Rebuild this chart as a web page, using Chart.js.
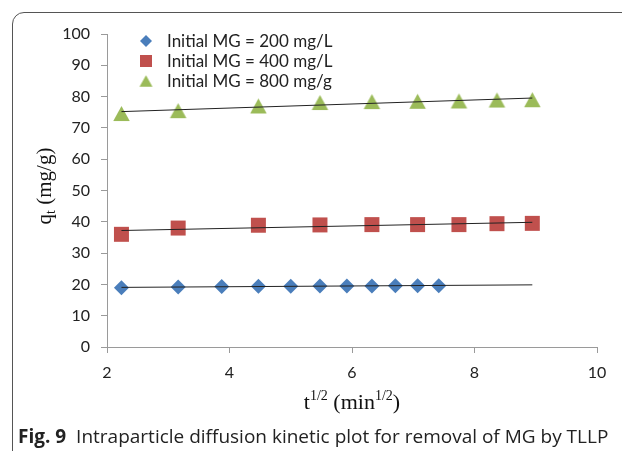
<!DOCTYPE html>
<html>
<head>
<meta charset="utf-8">
<title>Intraparticle diffusion</title>
<script src="https://cdn.jsdelivr.net/npm/chart.js@4.4.0/dist/chart.umd.min.js"></script>
<style>
    html, body { margin: 0; padding: 0; background: #fff; }
    body { width: 622px; height: 451px; position: relative; overflow: hidden; }
    .frame {
        position: absolute; left: 12px; top: 12px;
        width: 660px; height: 480px;
        border: 1px solid #555; border-radius: 12px;
    }
    #myChart { position: absolute; left: 0; top: 0; }
    .caption {
        position: absolute; left: 18px; top: 423px;
        font-family: "Open Sans", sans-serif; font-size: 19px; color: #222;
        white-space: nowrap; line-height: 26px;
    }
    .caption b { font-weight: 700; margin-right: 5px; }
</style>
</head>
<body>
<div class="frame"></div>
<canvas id="myChart" width="622" height="451"></canvas>
<div class="caption"><b>Fig. 9</b> Intraparticle diffusion kinetic plot for removal of MG by TLLP</div>

<script>
// t^(1/2) values, min^(1/2)
const t200 = [2.236, 3.162, 3.873, 4.472, 5.0, 5.477, 5.916, 6.325, 6.708, 7.071, 7.416];
const t400 = [2.236, 3.162, 4.472, 5.477, 6.325, 7.071, 7.746, 8.367, 8.944];
const t800 = [2.236, 3.162, 4.472, 5.477, 6.325, 7.071, 7.746, 8.367, 8.944];

// q_t, mg/g
const q200 = [18.9, 19.2, 19.3, 19.4, 19.4, 19.5, 19.5, 19.5, 19.6, 19.6, 19.6];
const q400 = [36.0, 38.0, 38.9, 39.0, 39.1, 39.1, 39.1, 39.4, 39.5];
const q800 = [74.6, 75.5, 77.0, 78.1, 78.4, 78.5, 78.6, 78.9, 79.0];

const seriesLabels = ["Initial MG = 200 mg/L", "Initial MG = 400 mg/L", "Initial MG = 800 mg/g"];
const seriesColors = ["#4a7ebb", "#c0504d", "#9bbb59"];

const xTicks = [2, 4, 6, 8, 10];
const yTicks = [0, 10, 20, 30, 40, 50, 60, 70, 80, 90, 100];

const trendEnd = 8.944;

// least squares line, drawn from the first point to trendEnd
function trend(xs, ys) {
    let n = xs.length, sx = 0, sy = 0, sxx = 0, sxy = 0;
    for (let i = 0; i < n; i++) {
        sx += xs[i]; sy += ys[i];
        sxx += xs[i] * xs[i]; sxy += xs[i] * ys[i];
    }
    let b = (n * sxy - sx * sy) / (n * sxx - sx * sx);
    let a = (sy - b * sx) / n;
    return [{x: xs[0], y: a + b * xs[0]}, {x: trendEnd, y: a + b * trendEnd}];
}

function points(xs, ys) {
    return xs.map((x, i) => ({x: x, y: ys[i]}));
}

// triangle marker, centered on its box
function triangleMarker(color, w, h) {
    let c = document.createElement("canvas");
    c.width = Math.ceil(w) + 2;
    c.height = Math.ceil(h) + 2;
    let g = c.getContext("2d");
    let cx = c.width / 2, cy = c.height / 2;
    g.beginPath();
    g.moveTo(cx, cy - h / 2);
    g.lineTo(cx + w / 2, cy + h / 2);
    g.lineTo(cx - w / 2, cy + h / 2);
    g.closePath();
    g.fillStyle = color;
    g.fill();
    return c;
}

const tri = triangleMarker(seriesColors[2], 16.5, 15);
const triSmall = triangleMarker(seriesColors[2], 13, 11.5);

function scatter(label, xs, ys, color, style, radius) {
    return {
        type: "scatter",
        label: label,
        data: points(xs, ys),
        backgroundColor: color,
        borderColor: color,
        borderWidth: 0,
        pointStyle: style,
        pointRadius: radius,
        order: 1
    };
}

function trendLine(xs, ys) {
    return {
        type: "line",
        label: "",
        data: trend(xs, ys),
        borderColor: "#222",
        borderWidth: 1,
        pointRadius: 0,
        fill: false,
        order: 0
    };
}

const serif = "'Liberation Serif', 'Times New Roman', serif";
const sans = "Lato, Carlito, sans-serif";

// legend and axis titles drawn by hand
const extras = {
    id: "extras",
    afterDraw(chart) {
        const ctx = chart.ctx;
        ctx.save();

        // legend
        const lx = 146, ly = [41, 61, 81];
        ctx.font = "17px " + sans;
        ctx.textBaseline = "middle";
        ctx.textAlign = "left";
        for (let i = 0; i < 3; i++) {
            let y = ly[i];
            ctx.fillStyle = seriesColors[i];
            if (i == 0) {
                ctx.beginPath();
                ctx.moveTo(lx, y - 6); ctx.lineTo(lx + 6, y);
                ctx.lineTo(lx, y + 6); ctx.lineTo(lx - 6, y);
                ctx.closePath(); ctx.fill();
            } else if (i == 1) {
                ctx.fillRect(lx - 6, y - 6, 12, 12);
            } else {
                ctx.drawImage(triSmall, lx - triSmall.width / 2, y - triSmall.height / 2);
            }
            ctx.fillStyle = "#222";
            ctx.fillText(seriesLabels[i], 167, y + 1);
        }

        // x title: t^1/2 (min^1/2)
        const big = "22px " + serif, small = "14px " + serif;
        const parts = [["t", big, 0], ["1/2", small, -9], [" (min", big, 0], ["1/2", small, -9], [")", big, 0]];
        let total = 0;
        parts.forEach(p => { ctx.font = p[1]; total += ctx.measureText(p[0]).width; });
        let x = 352 - total / 2;
        ctx.textBaseline = "alphabetic";
        ctx.fillStyle = "#111";
        parts.forEach(p => {
            ctx.font = p[1];
            ctx.fillText(p[0], x, 409 + p[2]);
            x += ctx.measureText(p[0]).width;
        });

        // y title: q_t (mg/g), rotated
        ctx.translate(51, 186);
        ctx.rotate(-Math.PI / 2);
        const yparts = [["q", "21px " + serif, 0], ["t", "14px " + serif, 4], [" (mg/g)", "21px " + serif, 0]];
        total = 0;
        yparts.forEach(p => { ctx.font = p[1]; total += ctx.measureText(p[0]).width; });
        x = -total / 2;
        yparts.forEach(p => {
            ctx.font = p[1];
            ctx.fillText(p[0], x, p[2]);
            x += ctx.measureText(p[0]).width;
        });

        ctx.restore();
    }
};

let ctx = document.getElementById("myChart").getContext("2d");
let chart = new Chart(ctx, {
    type: "scatter",
    data: {
        datasets: [
            scatter(seriesLabels[0], t200, q200, seriesColors[0], "rectRot", 7.5),
            scatter(seriesLabels[1], t400, q400, seriesColors[1], "rect", 10.6),
            scatter(seriesLabels[2], t800, q800, seriesColors[2], tri, 9),
            trendLine(t200, q200),
            trendLine(t400, q400),
            trendLine(t800, q800)
        ]
    },
    options: {
        responsive: false,
        animation: false,
        layout: {
            padding: {left: 0, top: 34, right: 25, bottom: 0}
        },
        plugins: {
            legend: {display: false},
            tooltip: {enabled: false}
        },
        scales: {
            x: {
                type: "linear",
                min: 2,
                max: 10,
                afterFit(scale) { scale.height = 104; },
                afterBuildTicks(scale) { scale.ticks = xTicks.map(v => ({value: v})); },
                border: {color: "#9a9a9a", width: 1},
                grid: {drawOnChartArea: false, drawTicks: true, tickLength: 6, color: "#9a9a9a"},
                ticks: {padding: 10, color: "#222", font: {family: sans, size: 16}}
            },
            y: {
                type: "linear",
                min: 0,
                max: 100,
                afterFit(scale) { scale.width = 107; },
                afterBuildTicks(scale) { scale.ticks = yTicks.map(v => ({value: v})); },
                border: {color: "#9a9a9a", width: 1},
                grid: {drawOnChartArea: false, drawTicks: true, tickLength: 6, color: "#9a9a9a"},
                ticks: {padding: 11, color: "#222", font: {family: sans, size: 16}}
            }
        }
    },
    plugins: [extras]
});
</script>
</body>
</html>
